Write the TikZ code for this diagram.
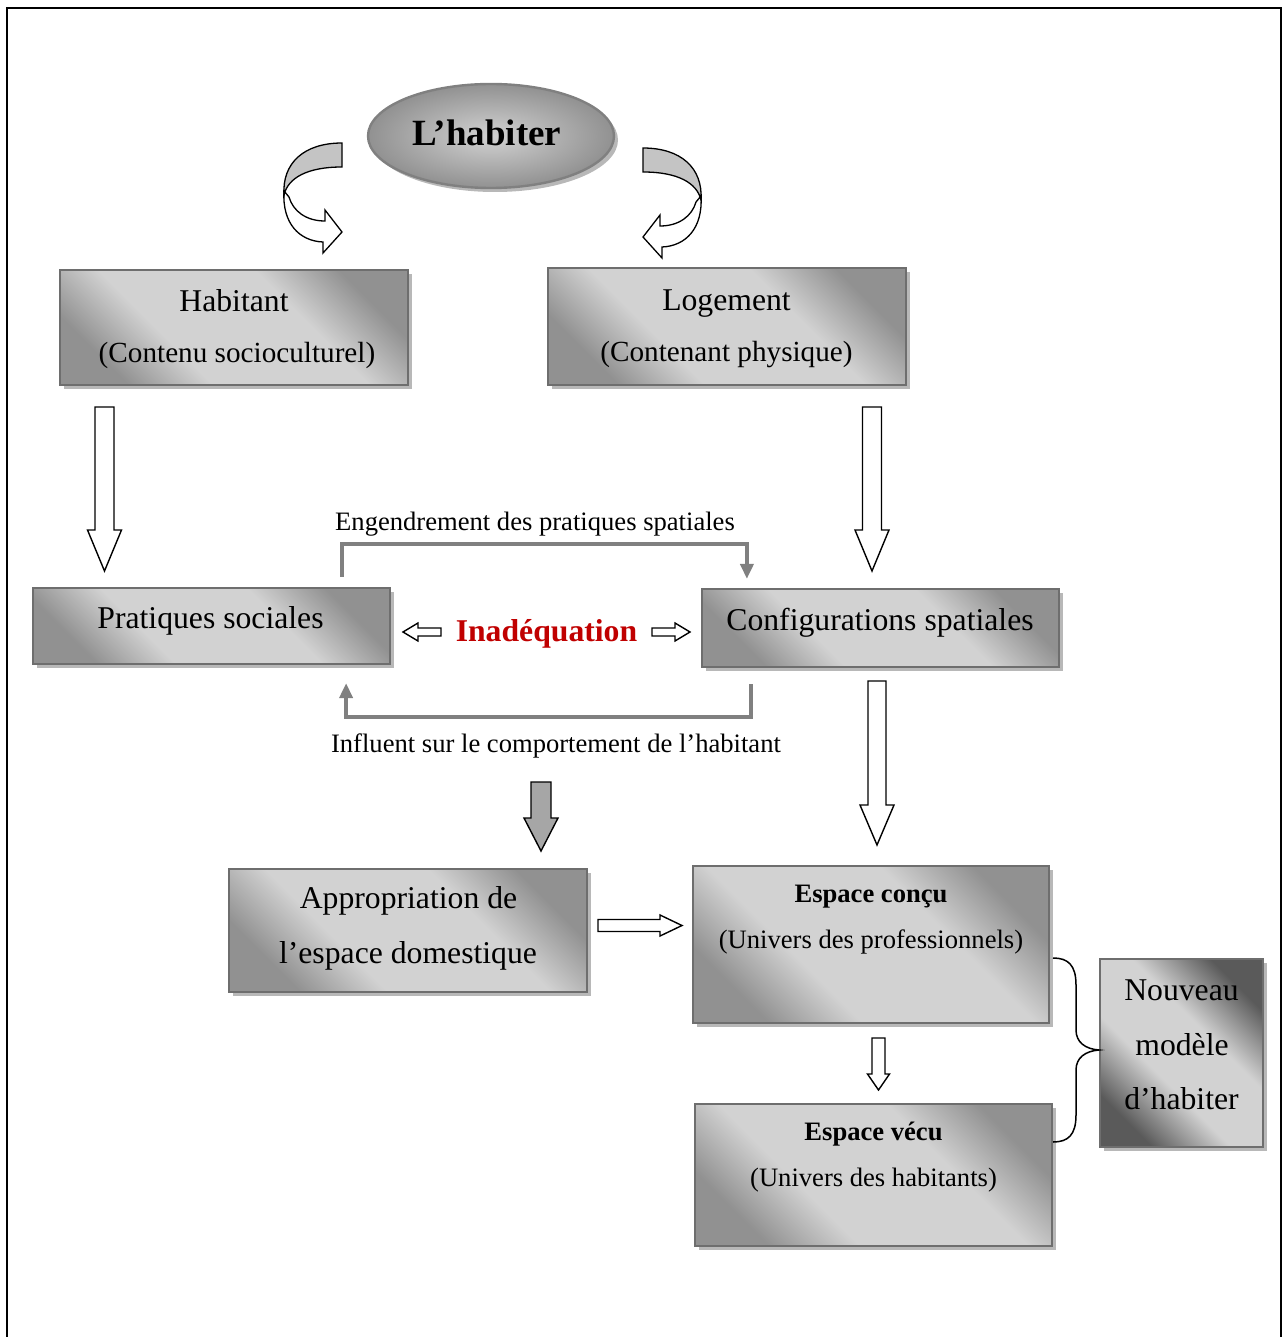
\documentclass[tikz,border=0pt]{standalone}
\usepackage{fontspec}
\setmainfont{Liberation Serif}
\usetikzlibrary{shapes.geometric,shadows,arrows.meta,calc}

\definecolor{edgegray}{HTML}{6E6E6E}
\definecolor{shadegray}{HTML}{B8B8B8}
\definecolor{darkfill}{HTML}{919191}
\definecolor{lightfill}{HTML}{D2D2D2}
\definecolor{deepfill}{HTML}{5A5A5A}
\definecolor{linkgray}{HTML}{808080}
\definecolor{ribbongray}{HTML}{C4C4C4}
\definecolor{solidgray}{HTML}{A6A6A6}
\definecolor{alertred}{HTML}{C00000}

% diagonal fills: darker corners, broad light band along the other diagonal
\pgfdeclareverticalshading{boxshade}{100bp}{%
  color(0bp)=(darkfill); color(25bp)=(darkfill); color(38bp)=(lightfill);
  color(62bp)=(lightfill); color(75bp)=(darkfill); color(100bp)=(darkfill)}
\pgfdeclareverticalshading{deepshade}{100bp}{%
  color(0bp)=(deepfill); color(25bp)=(deepfill); color(41bp)=(lightfill);
  color(59bp)=(lightfill); color(75bp)=(deepfill); color(100bp)=(deepfill)}

\newcommand{\szBig}{\fontsize{31.7}{38}\selectfont}
\newcommand{\szMid}{\fontsize{29.2}{35}\selectfont}
\newcommand{\szSml}{\fontsize{26.6}{32}\selectfont}
\newcommand{\szTitle}{\fontsize{37}{44}\selectfont\bfseries}

% block arrow: start point, direction angle, length, half shaft, half head, head length, style
\newcommand{\blockarrow}[7]{%
  \begin{scope}[shift={(#1)}, rotate=#2]
    \draw[#7] (0,-#4) -- (#3-#6,-#4) -- (#3-#6,-#5) -- (#3,0)
      -- (#3-#6,#5) -- (#3-#6,#4) -- (0,#4) -- cycle;
  \end{scope}}

% curved ribbon arrow leaving the title ellipse
\newcommand{\ribbonarrow}{%
  \draw[line width=1.3pt, fill=white]
    (-58,48) .. controls (-60,80) and (-43,98) .. (-19,99) -- (-19,110) -- (0,89)
    -- (-17,67) -- (-17,78) .. controls (-36,78) and (-49,68) .. (-53,54) -- cycle;
  \draw[line width=1.3pt, fill=ribbongray]
    (0,0) .. controls (-38,0) and (-60,20) .. (-58,52)
    .. controls (-54,35) and (-35,24) .. (0,24) -- cycle;}

\tikzset{
  box/.style={draw=edgegray, line width=2.2pt, inner sep=0pt,
    shading=boxshade, shading angle=135,
    drop shadow={shadow xshift=4pt, shadow yshift=-4pt, fill=shadegray, opacity=1}},
  darkbox/.style={box, shading=deepshade, shading angle=135},
  txt/.style={anchor=base, inner sep=0pt},
  hollow/.style={draw=black, line width=1.4pt, fill=white, line join=miter},
  solid/.style={draw=black, line width=1.4pt, fill=solidgray, line join=miter},
  link/.style={draw=linkgray, line width=4pt,
    -{Triangle[length=15pt,width=13pt]}},
}

\begin{document}
\begin{tikzpicture}[x=1pt,y=-1pt]
\useasboundingbox (0,0) rectangle (1284,1337);
\clip (0,0) rectangle (1284,1337);

% outer frame
\draw[line width=1.5pt] (7,1350) -- (7,8) -- (1281,8) -- (1281,1350);

% title
\node[ellipse, draw=linkgray, line width=2.4pt, minimum width=246pt,
  minimum height=104pt, inner color=lightfill, outer color=darkfill,
  drop shadow={shadow xshift=4pt, shadow yshift=-4pt, fill=shadegray, opacity=1}]
  (title) at (491,136) {};
\node[txt, font=\szTitle] (titletxt) at (487,146) {L’habiter};

% curved arrows from the title
\begin{scope}[shift={(342,143)}]
  \ribbonarrow
\end{scope}
\begin{scope}[shift={(643,148)}, xscale=-1]
  \ribbonarrow
\end{scope}

% boxes
\node[box, minimum width=348pt, minimum height=115pt] (hab) at (234,327.5) {};
\node[box, minimum width=358pt, minimum height=117pt] (log) at (727,326.5) {};
\node[box, minimum width=357pt, minimum height=76pt] (prat) at (211.5,626) {};
\node[box, minimum width=357pt, minimum height=78pt] (conf) at (880.5,628) {};
\node[box, minimum width=358pt, minimum height=123pt] (appr) at (408,930.5) {};
\node[box, minimum width=356pt, minimum height=157pt] (concu) at (871,944.5) {};
\node[box, minimum width=357pt, minimum height=142pt] (vecu) at (873.5,1175) {};
\node[darkbox, minimum width=163pt, minimum height=188pt] (nouv) at (1181.5,1053) {};

% box texts
\node[txt, font=\szBig] (habA) at (234,311) {Habitant};
\node[txt, font=\szMid] (habB) at (237,362) {(Contenu socioculturel)};
\node[txt, font=\szBig] (logA) at (726.5,310) {Logement};
\node[txt, font=\szMid] (logB) at (726.5,361) {(Contenant physique)};
\node[txt, font=\szBig] (pratA) at (210.5,628) {Pratiques sociales};
\node[txt, font=\szBig] (confA) at (880,630) {Configurations spatiales};
\node[txt, font=\szBig] (apprA) at (408.5,908) {Appropriation de};
\node[txt, font=\szBig] (apprB) at (408,963) {l’espace domestique};
\node[txt, font=\szSml\bfseries] (concuA) at (871,902) {Espace conçu};
\node[txt, font=\szSml] (concuB) at (871,948) {(Univers des professionnels)};
\node[txt, font=\szSml\bfseries] (vecuA) at (873.5,1140) {Espace vécu};
\node[txt, font=\szSml] (vecuB) at (873.5,1186) {(Univers des habitants)};
\node[txt, font=\szBig] (nouvA) at (1181.5,1000) {Nouveau};
\node[txt, font=\szBig] (nouvB) at (1182,1055) {modèle};
\node[txt, font=\szBig] (nouvC) at (1181.5,1109) {d’habiter};

% mismatch label
\node[txt, font=\szBig\bfseries, text=alertred] (inad) at (546.5,641) {Inadéquation};
\blockarrow{441,632}{180}{38}{4}{9}{15}{hollow}
\blockarrow{652,632}{0}{38}{4}{9}{15}{hollow}

% block arrows between levels
\blockarrow{104.5,407}{-90}{164}{9.5}{17}{41}{hollow}
\blockarrow{872,407}{-90}{164}{9.5}{17}{41}{hollow}
\blockarrow{877,681}{-90}{164}{9}{17}{40}{hollow}
\blockarrow{541,782}{-90}{69}{10}{17}{33}{solid}
\blockarrow{598,925.5}{0}{84}{6}{10.5}{22}{hollow}
\blockarrow{878.5,1038}{-90}{52}{6.5}{11}{16}{hollow}

% feedback links
\node[txt, font=\szSml] (engTxt) at (535,530) {Engendrement des pratiques spatiales};
\draw[link] ($(prat.north east)+(-49,-10)$) -- ++(0,-33)
  -| ($(conf.north west)+(46,-9)$);
\node[txt, font=\szSml] (inflTxt) at (556,752) {Influent sur le comportement de l’habitant};
\draw[link] ($(conf.south west)+(50,16)$) -- ++(0,33)
  -| ($(prat.south east)+(-45,18)$);

% brace grouping the two spaces
\draw[line width=1.5pt]
  (1053,958) .. controls (1068,958) and (1076,965) .. (1076,985) -- (1076,1030)
  .. controls (1076,1042) and (1085,1049) .. (1099,1050)
  .. controls (1085,1051) and (1076,1058) .. (1076,1070) -- (1076,1115)
  .. controls (1076,1135) and (1068,1142) .. (1053,1142);
\end{tikzpicture}
\end{document}
